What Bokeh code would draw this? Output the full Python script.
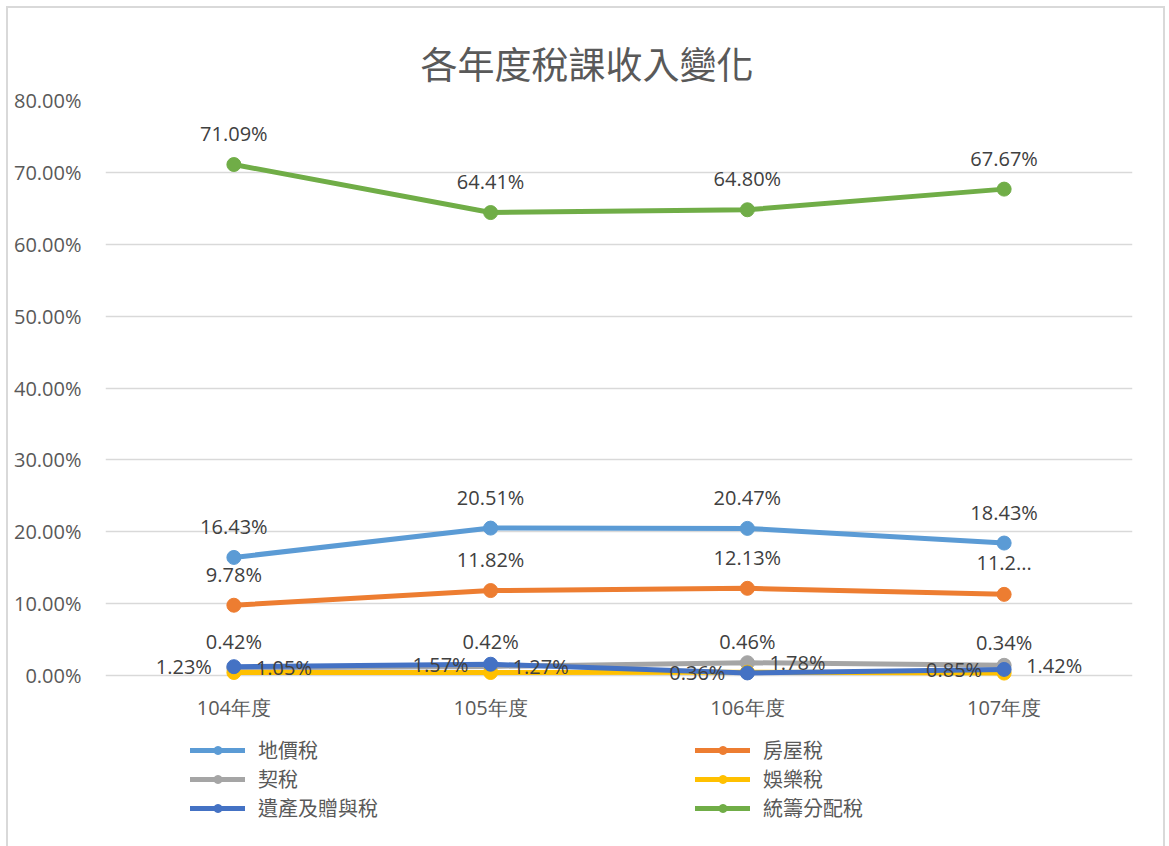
from bokeh.plotting import figure
from bokeh.models import (ColumnDataSource, FactorRange, Range1d, NumeralTickFormatter,
                          FixedTicker, Legend, LegendItem)
from bokeh.core.properties import value
from bokeh.embed import file_html
from bokeh.resources import INLINE

# ---------------- data ----------------
years = ["104年度", "105年度", "106年度", "107年度"]
names = ["地價稅", "房屋稅", "契稅", "娛樂稅", "遺產及贈與稅", "統籌分配稅"]
land_tax = [16.43, 20.51, 20.47, 18.43]
house_tax = [9.78, 11.82, 12.13, 11.29]
deed_tax = [1.05, 1.27, 1.78, 1.42]
amusement_tax = [0.42, 0.42, 0.46, 0.34]
estate_gift_tax = [1.23, 1.57, 0.36, 0.85]
allocated_tax = [71.09, 64.41, 64.80, 67.67]
y_ticks = [0.0, 0.1, 0.2, 0.3, 0.4, 0.5, 0.6, 0.7, 0.8]

series = [land_tax, house_tax, deed_tax, amusement_tax, estate_gift_tax, allocated_tax]
colors = ["#5B9BD5", "#ED7D31", "#A5A5A5", "#FFC000", "#4472C4", "#70AD47"]
label_pos = ["above", "above", "right", "above", "left", "above"]

FONT_NUM = "Open Sans"
FONT_CJK = "Noto Sans CJK TC"
GREY = "#595959"

# the plot area runs down past the 0 % line so that the legend can sit inside it
p = figure(width=1159, height=840,
           x_range=FactorRange(*years), y_range=Range1d(-0.2184, 0.8),
           output_backend="svg", toolbar_location=None,
           min_border_left=97, min_border_right=35,
           min_border_top=92, min_border_bottom=16,
           background_fill_color="white", border_fill_color="white")
p.styles = {"margin-left": "6px", "margin-top": "6px",
            "border-top": "2px solid #d9d9d9", "border-left": "2px solid #d9d9d9",
            "border-right": "2px solid #d9d9d9"}
p.outline_line_color = None

p.title.text = "各年度稅課收入變化"
p.title.align = "left"
p.title.text_font = FONT_CJK
p.title.text_font_size = "37px"
p.title.text_font_style = "normal"
p.title.text_color = GREY
p.title.standoff = 22
p.title.offset = 315

p.xaxis.visible = False
ax = p.yaxis[0]
ax.axis_line_color = None
ax.major_tick_line_color = None
ax.minor_tick_line_color = None
ax.major_label_text_font_size = "20px"
ax.major_label_text_color = GREY
ax.major_label_text_font = FONT_NUM
ax.major_label_standoff = 18
ax.ticker = FixedTicker(ticks=y_ticks)
ax.formatter = NumeralTickFormatter(format="0.00%")
p.xgrid.grid_line_color = None
p.ygrid.grid_line_color = "#d9d9d9"
p.ygrid.grid_line_width = 1.5
p.ygrid.ticker = FixedTicker(ticks=y_ticks)

# category labels under the 0 % line
cat_src = ColumnDataSource(dict(x=years, y=[0.0] * len(years), label=years))
p.text(x="x", y="y", text="label", source=cat_src, text_font=value(FONT_NUM),
       text_font_size="20px", text_color=GREY, text_align="center",
       text_baseline="middle", y_offset=32)

sources = []
items = []
for name, vals, col in zip(names, series, colors):
    labels = [f"{v:.2f}%" for v in vals]
    src = ColumnDataSource(dict(x=years, y=[v / 100 for v in vals], label=labels))
    sources.append(src)
    rl = p.line(x="x", y="y", source=src, line_width=5, line_color=col, line_cap="round")
    rp = p.scatter(x="x", y="y", source=src, size=14, fill_color=col, line_color=col)
    items.append(LegendItem(label=name, renderers=[rl, rp]))

# the 107 house-tax label is shown truncated in the reference
sources[1].data["label"] = sources[1].data["label"][:3] + ["11.2..."]

for src, pos in zip(sources, label_pos):
    kw = dict(x="x", y="y", text="label", source=src, text_font=value(FONT_NUM),
              text_font_size="20px", text_color="#404040", text_baseline="middle")
    if pos == "above":
        p.text(text_align="center", y_offset=-31, **kw)
    elif pos == "left":
        p.text(text_align="right", x_offset=-22, **kw)
    else:
        p.text(text_align="left", x_offset=22, **kw)

legend = Legend(items=items, location=(85, 10), orientation="horizontal", ncols=2,
                padding=0, margin=0, spacing=-6, glyph_width=55, glyph_height=20,
                label_height=20, label_width=437, label_standoff=13,
                label_text_font=FONT_CJK, label_text_font_size="20px",
                label_text_color=GREY, border_line_color=None,
                background_fill_alpha=0)
p.add_layout(legend)

open("out.html", "w").write(file_html(p, INLINE))
